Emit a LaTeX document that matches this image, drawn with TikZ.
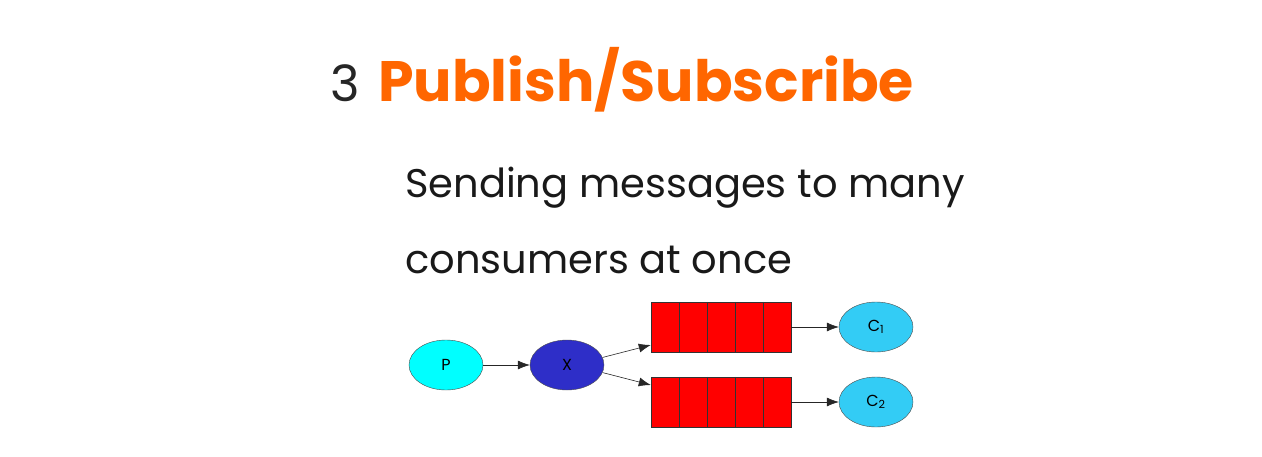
\documentclass[tikz,border=0pt]{standalone}
\usepackage{fontspec}
\setmainfont{Poppins}
\setsansfont{Poppins}
\usepackage{tikz}
\usetikzlibrary{arrows.meta,positioning,calc,shapes.geometric}
\definecolor{titleorange}{HTML}{FF6600}
\definecolor{prodcyan}{HTML}{00FFFF}
\definecolor{exchblue}{HTML}{2E2EC8}
\definecolor{consblue}{HTML}{33CCF5}
\definecolor{queuered}{HTML}{FF0000}

\begin{document}
\begin{tikzpicture}[x=1pt, y=-1pt,
  every node/.style={font=\sffamily},
  actor/.style={draw=black!70, ellipse, minimum width=74pt, minimum height=50pt, inner sep=0pt, font=\sffamily\fontsize{16}{16}\selectfont},
  queuebox/.style={draw=black!80, fill=queuered, minimum width=140pt, minimum height=50pt, inner sep=0pt},
  link/.style={-{Latex[length=12pt,width=9pt]}, black!85, semithick}]
  \useasboundingbox (0,0) rectangle (1262,456);
  % heading
  \node[anchor=base west, inner sep=0pt, text=black!85, font=\fontsize{50}{50}\selectfont] (num) at (330,101) {3};
  \node[anchor=base west, inner sep=0pt, text=titleorange, font=\bfseries\fontsize{57}{57}\selectfont] (title) at (378,101) {Publish/Subscribe};
  \node[anchor=base west, inner sep=0pt, text=black!90, font=\fontsize{40}{40}\selectfont] (line1) at (405,197) {Sending messages to many};
  \node[anchor=base west, inner sep=0pt, text=black!90, font=\fontsize{40}{40}\selectfont] (line2) at (405,273) {consumers at once};
  % diagram
  \node[actor, fill=prodcyan] (prod) at (446,365) {P};
  \node[actor, fill=exchblue] (exch) at (567,365) {X};
  \node[queuebox] (q1) at (721,327) {};
  \node[queuebox] (q2) at (721,402) {};
  \foreach \q in {q1,q2}
    \foreach \i in {1,...,4}
      \draw[black!80] ($(\q.north west)+(28*\i,0)$) -- ($(\q.south west)+(28*\i,0)$);
  \node[actor, fill=consblue] (c1) at (876,327) {C\textsubscript{1}};
  \node[actor, fill=consblue] (c2) at (876,402) {C\textsubscript{2}};
  \draw[link] (prod) -- (exch);
  \draw[link] (exch.12) -- ([yshift=-18pt]q1.west);
  \draw[link] (exch.-12) -- ([yshift=17pt]q2.west);
  \draw[link] (q1) -- (c1);
  \draw[link] (q2) -- (c2);
\end{tikzpicture}
\end{document}
